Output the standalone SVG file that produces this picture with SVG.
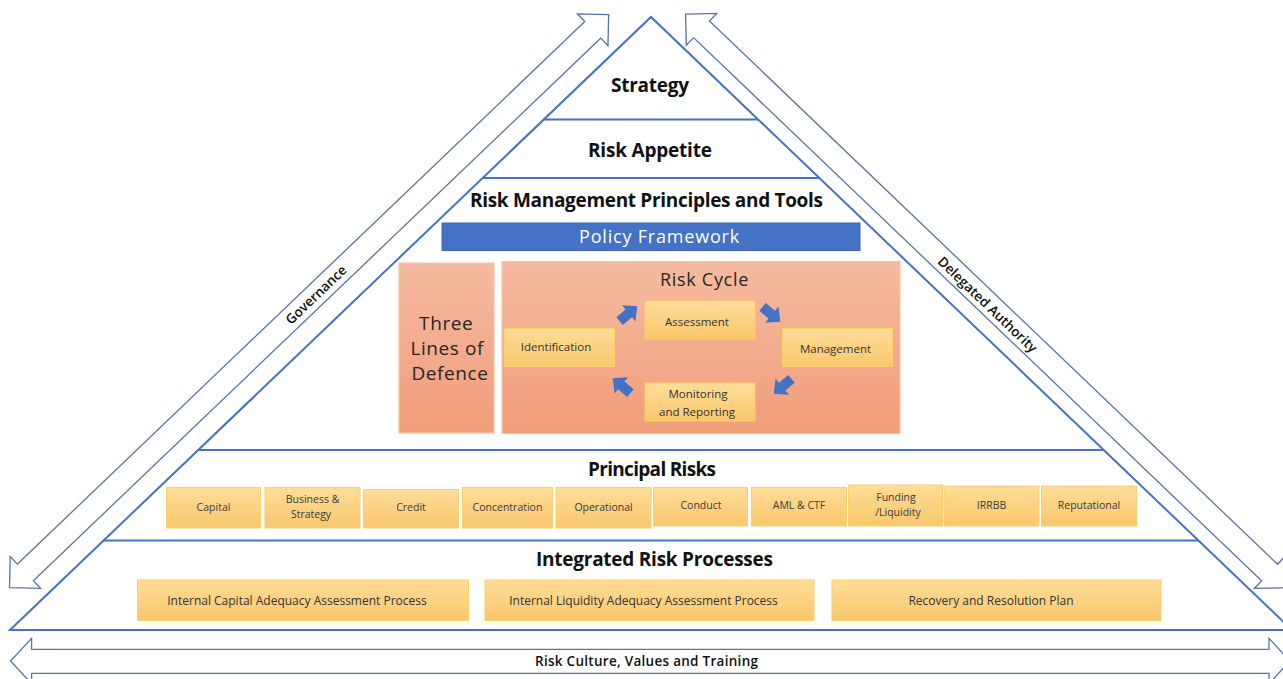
<svg xmlns="http://www.w3.org/2000/svg" width="1283" height="679" viewBox="0 0 1283 679">
  <defs>
    <style>
      .edge{fill:none;stroke:#4472C4;stroke-width:2}
      .barrow{fill:#fff;stroke:#5573AD;stroke-width:1.3;stroke-linejoin:miter}
      .title{font-family:"Open Sans","Liberation Sans",sans-serif;font-weight:700;font-size:19px;fill:#111;text-anchor:middle}
      .alabel{font-family:"Open Sans","Liberation Sans",sans-serif;font-weight:600;font-size:13.5px;fill:#111;text-anchor:middle}
      .ybox{fill:url(#gy);stroke:#FAD06A;stroke-width:1}
      .sbox{fill:url(#gs);stroke:#F7C2A6;stroke-width:1}
      .small{font-family:"Open Sans","Liberation Sans",sans-serif;font-size:10.5px;fill:#3a3a3a;text-anchor:middle}
      .mid{font-family:"Open Sans","Liberation Sans",sans-serif;font-size:11.5px;fill:#333;text-anchor:middle}
      .proc{font-size:12px}
      .light{font-family:"Open Sans","Liberation Sans",sans-serif;font-weight:400;fill:#262626;text-anchor:middle}
      .cyc{fill:#4472C4}
    </style>
    <linearGradient id="gy" x1="0" y1="0" x2="0" y2="1">
      <stop offset="0" stop-color="#FFDD98"/>
      <stop offset="1" stop-color="#F9C76C"/>
    </linearGradient>
    <linearGradient id="gs" x1="0" y1="0" x2="0" y2="1">
      <stop offset="0" stop-color="#F5BBA0"/>
      <stop offset="1" stop-color="#F19D7A"/>
    </linearGradient>
    <!-- small chunky arrow pointing along +x, centred on the origin -->
    <path id="cycArrow" d="M-11,-5 L1,-5 L1,-10.5 L12,0 L1,10.5 L1,5 L-11,5 Z"/>
  </defs>

  <rect width="1283" height="679" fill="#fff"/>

  <!-- pyramid outline and tier separators -->
  <g id="pyramid">
    <path class="edge" d="M10,630 L651,17 L1292,630 Z"/>
    <line class="edge" x1="543.8" y1="119.5" x2="758.2" y2="119.5"/>
    <line class="edge" x1="482.6" y1="178" x2="819.4" y2="178"/>
    <line class="edge" x1="198.2" y1="450" x2="1103.8" y2="450"/>
    <line class="edge" x1="103.6" y1="540.5" x2="1198.4" y2="540.5"/>
  </g>

  <!-- side and base block arrows -->
  <g id="governance" transform="translate(9.5,587.6) rotate(-43.72)">
    <path class="barrow" d="M0,0 L22,-22 L22,-11.5 L807,-11.5 L807,-22 L829,0 L807,22 L807,11.5 L22,11.5 L22,22 Z"/>
    <text class="alabel" x="424" y="5">Governance</text>
  </g>
  <g id="delegated-authority" transform="translate(685.6,14.1) rotate(43.72)">
    <path class="barrow" d="M0,0 L22,-22 L22,-11.5 L808,-11.5 L808,-22 L830,0 L808,22 L808,11.5 L22,11.5 L22,22 Z"/>
    <text class="alabel" x="419" y="6">Delegated Authority</text>
  </g>
  <g id="risk-culture">
    <path class="barrow" d="M10.5,661 L31.6,638.3 L31.6,649.3 L1269,649.3 L1269,638.3 L1290,661 L1269,683.7 L1269,673.3 L31.6,673.3 L31.6,683.7 Z"/>
    <text class="alabel" x="646.5" y="666" font-weight="700" font-size="14" textLength="223">Risk Culture, Values and Training</text>
  </g>

  <!-- tier titles -->
  <g id="strategy"><text class="title" x="650" y="92" textLength="78">Strategy</text></g>
  <g id="risk-appetite"><text class="title" x="650" y="157" textLength="124">Risk Appetite</text></g>
  <g id="principles"><text class="title" x="646.5" y="207" textLength="353">Risk Management Principles and Tools</text></g>

  <g id="policy-framework">
    <rect x="442" y="223" width="418" height="27.5" fill="#4472C4" stroke="#3E67B1" stroke-width="1"/>
    <text class="light" x="659.5" y="243" font-size="18" style="fill:#fff" letter-spacing="0.8">Policy Framework</text>
  </g>

  <g id="three-lines">
    <rect class="sbox" x="399" y="263" width="95" height="170"/>
    <text class="light" font-size="19" letter-spacing="0.6">
      <tspan x="449" y="330">Three</tspan>
      <tspan x="450" y="355">Lines of</tspan>
      <tspan x="450" y="380">Defence</tspan>
    </text>
  </g>

  <g id="risk-cycle">
    <rect class="sbox" x="502" y="261.5" width="398" height="172"/>
    <text class="light" x="704.5" y="286" font-size="18" letter-spacing="0.7">Risk Cycle</text>
  </g>

  <g id="assessment">
    <rect class="ybox" x="645" y="301" width="110" height="38"/>
    <text class="mid" x="697" y="326">Assessment</text>
  </g>
  <g id="identification">
    <rect class="ybox" x="504.5" y="328.5" width="110" height="38"/>
    <text class="mid" x="556" y="351">Identification</text>
  </g>
  <g id="management">
    <rect class="ybox" x="782.5" y="328.5" width="110" height="38"/>
    <text class="mid" x="835.5" y="353">Management</text>
  </g>
  <g id="monitoring">
    <rect class="ybox" x="645" y="383" width="110" height="38"/>
    <text class="mid"><tspan x="698" y="398">Monitoring</tspan><tspan x="697" y="416">and Reporting</tspan></text>
  </g>

  <!-- cycle connectors -->
  <g id="connectors" class="cyc">
    <use href="#cycArrow" transform="translate(628,314) rotate(-40)"/>
    <use href="#cycArrow" transform="translate(771,314) rotate(40)"/>
    <use href="#cycArrow" transform="translate(783,386) rotate(140)"/>
    <use href="#cycArrow" transform="translate(622,386) rotate(-140)"/>
  </g>

  <!-- principal risks -->
  <g id="principal-risks"><text class="title" x="652" y="476" textLength="128">Principal Risks</text></g>
  <g id="risk-capital"><rect class="ybox" x="166.5" y="487.5" width="94" height="40.5"/><text class="small" x="213.5" y="511">Capital</text></g>
  <g id="risk-business"><rect class="ybox" x="265" y="487.5" width="95" height="40.5"/><text class="small"><tspan x="312.5" y="503">Business &amp;</tspan><tspan x="311" y="517.5">Strategy</tspan></text></g>
  <g id="risk-credit"><rect class="ybox" x="363.5" y="489.5" width="95" height="38.5"/><text class="small" x="411" y="511">Credit</text></g>
  <g id="risk-concentration"><rect class="ybox" x="462.5" y="487.5" width="90" height="40.5"/><text class="small" x="507.5" y="511">Concentration</text></g>
  <g id="risk-operational"><rect class="ybox" x="556" y="487.5" width="95" height="40.5"/><text class="small" x="603.5" y="511">Operational</text></g>
  <g id="risk-conduct"><rect class="ybox" x="653.5" y="487.5" width="94" height="38.5"/><text class="small" x="701" y="509">Conduct</text></g>
  <g id="risk-aml"><rect class="ybox" x="751.5" y="487.5" width="95" height="38.5"/><text class="small" x="799" y="509">AML &amp; CTF</text></g>
  <g id="risk-funding"><rect class="ybox" x="848.5" y="485" width="94" height="41"/><text class="small"><tspan x="896" y="501">Funding</tspan><tspan x="898" y="516">/Liquidity</tspan></text></g>
  <g id="risk-irrbb"><rect class="ybox" x="944" y="486" width="95" height="40"/><text class="small" x="991.5" y="509">IRRBB</text></g>
  <g id="risk-reputational"><rect class="ybox" x="1041.5" y="486" width="95" height="40"/><text class="small" x="1089" y="509">Reputational</text></g>

  <!-- integrated risk processes -->
  <g id="integrated"><text class="title" x="654.5" y="566" textLength="237">Integrated Risk Processes</text></g>
  <g id="icaap"><rect class="ybox" x="137.5" y="580" width="331" height="40.5"/><text class="mid proc" x="297" y="605">Internal Capital Adequacy Assessment Process</text></g>
  <g id="ilaap"><rect class="ybox" x="485" y="580" width="329" height="40.5"/><text class="mid proc" x="643.5" y="605">Internal Liquidity Adequacy Assessment Process</text></g>
  <g id="recovery"><rect class="ybox" x="832" y="580" width="329" height="40.5"/><text class="mid proc" x="991" y="605">Recovery and Resolution Plan</text></g>
</svg>
